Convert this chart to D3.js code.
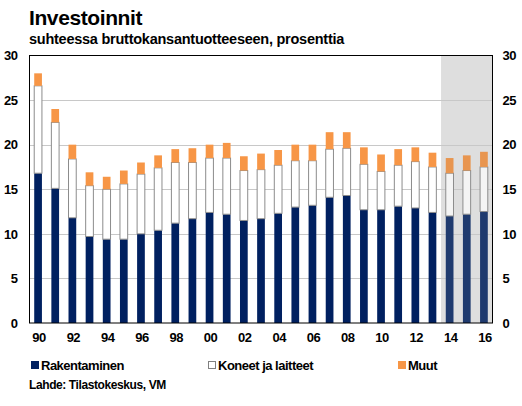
<!DOCTYPE html>
<html>
<head>
<meta charset="utf-8">
<script src="https://cdn.jsdelivr.net/npm/d3@7"></script>
<style>
  html, body { margin: 0; padding: 0; background: #fff; }
  svg { display: block; }
  text { font-family: "Liberation Sans", Arial, sans-serif; font-weight: bold; fill: #000; }
</style>
</head>
<body>
<svg id="chart" width="522" height="406"></svg>
<script>
const years = [1990,1991,1992,1993,1994,1995,1996,1997,1998,1999,2000,2001,2002,2003,2004,2005,2006,2007,2008,2009,2010,2011,2012,2013,2014,2015,2016];
const rakentaminen = [16.8,15.1,11.8,9.7,9.4,9.4,10.0,10.4,11.2,11.7,12.4,12.2,11.5,11.7,12.3,13.0,13.2,14.1,14.3,12.7,12.7,13.1,12.9,12.4,12.0,12.2,12.5];
const koneet =       [9.8,7.4,6.6,5.7,5.6,6.2,6.7,7.0,6.8,6.3,6.1,6.3,5.6,5.5,5.4,5.2,5.0,5.4,5.3,5.1,4.3,4.6,5.2,5.1,4.8,4.9,5.0];
const muut =         [1.4,1.5,1.6,1.5,1.4,1.5,1.3,1.4,1.5,1.6,1.5,1.7,1.6,1.8,1.7,1.8,1.8,1.9,1.8,1.9,1.9,1.8,1.6,1.6,1.7,1.7,1.7];
const forecastFrom = 2014;
const yTicks = [0,5,10,15,20,25,30];
const xTickYears = [1990,1992,1994,1996,1998,2000,2002,2004,2006,2008,2010,2012,2014,2016];
const seriesNames = ["Rakentaminen","Koneet ja laitteet","Muut"];
const title = "Investoinnit";
const subtitle = "suhteessa bruttokansantuotteeseen, prosenttia";
const source = "Lahde: Tilastokeskus, VM";

const svg = d3.select("#chart");
const L = 29.5, R = 492.5, T = 55.5, B = 323;

const x = d3.scaleBand().domain(years).range([L, R]).paddingInner(0.55).paddingOuter(0.275);
const y = d3.scaleLinear().domain([0, 30]).range([B, T]);

// forecast shading
const shadeX = x(forecastFrom) - x.step() * x.paddingInner() / 2;
svg.append("rect").attr("x", shadeX).attr("y", T).attr("width", R - shadeX).attr("height", B - T).attr("fill", "#dedede");

// gridlines
svg.append("g").selectAll("line").data(yTicks.filter(t => t > 0 && t < 30)).join("line")
  .attr("x1", L).attr("x2", R).attr("y1", d => Math.round(y(d)) + 0.5).attr("y2", d => Math.round(y(d)) + 0.5)
  .attr("stroke", "#c8c8c8").attr("stroke-width", 1);

const data = years.map((yr, i) => ({ yr, r: rakentaminen[i], k: koneet[i], m: muut[i], f: yr >= forecastFrom }));

const g = svg.append("g");
// Rakentaminen
g.selectAll("rect.r").data(data).join("rect").attr("class", "r")
  .attr("x", d => x(d.yr)).attr("width", x.bandwidth())
  .attr("y", d => y(d.r)).attr("height", d => y(0) - y(d.r))
  .attr("fill", d => d.f ? "#1f3a6e" : "#002060");
// Koneet ja laitteet
g.selectAll("rect.k").data(data).join("rect").attr("class", "k")
  .attr("x", d => x(d.yr)).attr("width", x.bandwidth())
  .attr("y", d => y(d.r + d.k)).attr("height", d => y(d.r) - y(d.r + d.k))
  .attr("fill", d => d.f ? "#f4f4f4" : "#ffffff").attr("stroke", "#8c8c8c").attr("stroke-width", 1);
// Muut
g.selectAll("rect.m").data(data).join("rect").attr("class", "m")
  .attr("x", d => x(d.yr)).attr("width", x.bandwidth())
  .attr("y", d => y(d.r + d.k + d.m)).attr("height", d => y(d.r + d.k) - y(d.r + d.k + d.m))
  .attr("fill", d => d.f ? "#e8954f" : "#f79646");

// frame
svg.append("rect").attr("x", L).attr("y", T).attr("width", R - L).attr("height", B - T)
  .attr("fill", "none").attr("stroke", "#000").attr("stroke-width", 1);

// axes
const styleTicks = sel => sel.selectAll("text")
  .style("font-family", "'Liberation Sans', Arial, sans-serif").style("font-weight", "bold")
  .style("font-size", "13px").attr("letter-spacing", "-0.5").attr("fill", "#000");
const yLeft = d3.axisLeft(y).tickValues(yTicks).tickSize(0).tickPadding(12);
svg.append("g").attr("transform", `translate(${L},0)`).call(yLeft)
  .call(a => a.select(".domain").remove()).call(styleTicks);
const yRight = d3.axisRight(y).tickValues(yTicks).tickSize(0).tickPadding(10);
svg.append("g").attr("transform", `translate(${R},0)`).call(yRight)
  .call(a => a.select(".domain").remove()).call(styleTicks);
const xAxis = d3.axisBottom(x).tickValues(xTickYears).tickFormat(d => String(d).slice(2)).tickSize(0).tickPadding(10);
svg.append("g").attr("transform", `translate(1,${B})`).call(xAxis)
  .call(a => a.select(".domain").remove()).call(styleTicks);

// titles
svg.append("text").attr("x", 29).attr("y", 25).attr("font-size", 21).attr("letter-spacing", "-0.4").text(title);
svg.append("text").attr("x", 29).attr("y", 43.5).attr("font-size", 14.5).attr("letter-spacing", "-0.25").text(subtitle);

// legend
const legendX = [31, 208, 398];
const legendFill = ["#002060", "#ffffff", "#f79646"];
const lg = svg.append("g");
seriesNames.forEach((n, i) => {
  lg.append("rect").attr("x", legendX[i] + (i === 1 ? 0.5 : 0)).attr("y", 361 + (i === 1 ? 0.5 : 0))
    .attr("width", i === 1 ? 7 : 8).attr("height", i === 1 ? 7 : 8)
    .attr("fill", legendFill[i]).attr("stroke", i === 1 ? "#808080" : "none");
  lg.append("text").attr("x", legendX[i] + 10).attr("y", 369.5).attr("font-size", 13).attr("letter-spacing", "-0.5").text(n);
});

svg.append("text").attr("x", 29).attr("y", 389).attr("font-size", 12).attr("letter-spacing", "-0.4").text(source);
</script>
</body>
</html>
